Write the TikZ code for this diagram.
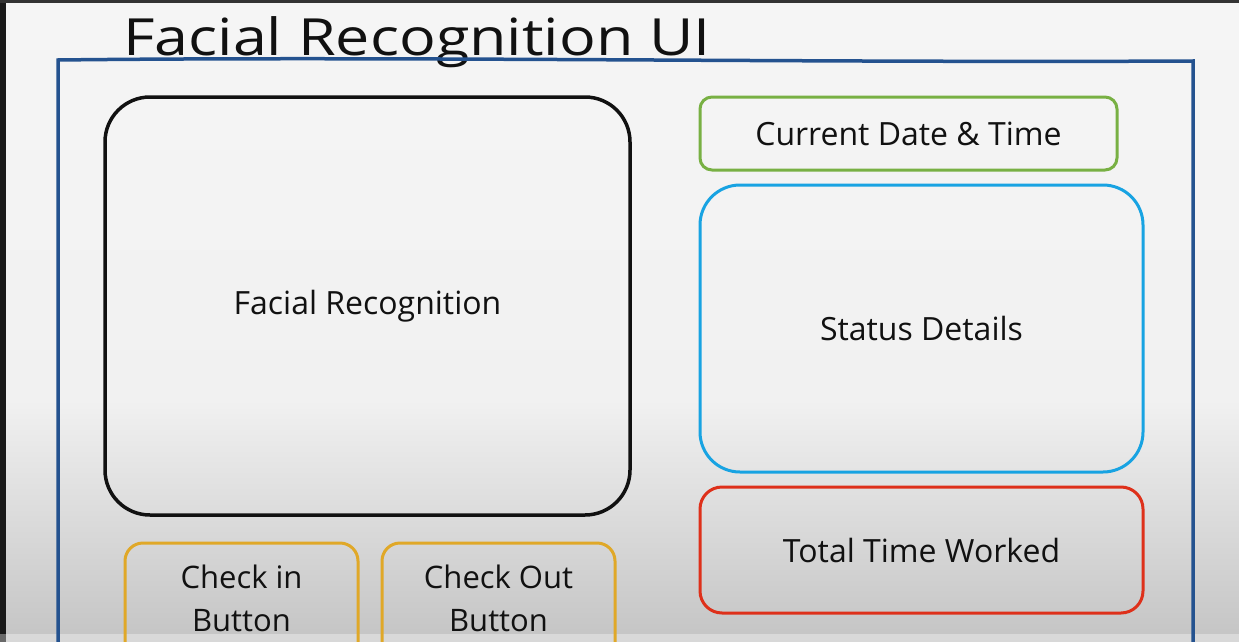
\documentclass[tikz,border=0pt]{standalone}
\usepackage{fontspec}
\setmainfont{Open Sans}

\definecolor{bgtop}{HTML}{F5F5F5}
\definecolor{bgmid}{HTML}{F1F1F1}
\definecolor{bgbottom}{HTML}{C4C4C4}
\definecolor{frameblue}{HTML}{24528F}
\definecolor{boxblack}{HTML}{111111}
\definecolor{boxgreen}{HTML}{78B043}
\definecolor{boxcyan}{HTML}{18A3E2}
\definecolor{boxred}{HTML}{DE301A}
\definecolor{boxyellow}{HTML}{E0A828}

\tikzset{
  uibox/.style={draw, line width=3pt, inner sep=0pt, text=boxblack},
  uilabel/.style={font=\fontsize{32}{43}\selectfont, text=boxblack, align=center}
}

\begin{document}
\begin{tikzpicture}[x=1pt, y=-1pt]

\useasboundingbox (0,0) rectangle (1239,642);
\clip (0,0) rectangle (1239,642);

% screen background
\shade [top color=bgtop, bottom color=bgmid] (0,0) rectangle (1239,400);
\shade [top color=bgmid, bottom color=bgbottom] (0,400) rectangle (1239,642);
\fill [black!90] (0,0) rectangle (6,642);
\fill [black!80] (0,0) rectangle (1239,3);
\fill [white, opacity=0.35] (0,634) rectangle (1239,642);

% title and window frame
\node[anchor=base west, font=\fontsize{61}{61}\selectfont, text=boxblack, inner sep=0pt] (title) at (123,56) {\scalebox{1}[0.84]{Facial Recognition UI}};
\draw [frameblue, line width=3.5pt] (58,660) -- (58,60) .. controls (400,56) and (800,63) .. (1193,61) -- (1193,660);

% left side
\node[uibox, draw=boxblack, line width=3.5pt, rounded corners=45pt, minimum width=525pt, minimum height=418pt, uilabel] (face) at (367.5,306) {Facial Recognition};

\node[uibox, draw=boxyellow, rounded corners=18pt, minimum width=233pt, minimum height=157pt] (checkinbox) at (241.5,621.5) {};
\node[uibox, draw=boxyellow, rounded corners=18pt, minimum width=233pt, minimum height=157pt] (checkoutbox) at (498.5,621.5) {};
\node[uilabel, font=\fontsize{31}{43}\selectfont] (checkin) at (241.5,598) {Check in\\Button};
\node[uilabel, font=\fontsize{31}{43}\selectfont] (checkout) at (498.5,598) {Check Out\\Button};

% right side
\node[uibox, draw=boxgreen, rounded corners=12pt, minimum width=417pt, minimum height=73pt, uilabel] (datetime) at (908.5,133.5) {Current Date \& Time};
\node[uibox, draw=boxcyan, rounded corners=40pt, minimum width=443pt, minimum height=287pt, uilabel] (status) at (921.5,328.5) {Status Details};
\node[uibox, draw=boxred, rounded corners=22pt, minimum width=443pt, minimum height=126pt, uilabel] (total) at (921.5,550) {Total Time Worked};

\end{tikzpicture}
\end{document}
